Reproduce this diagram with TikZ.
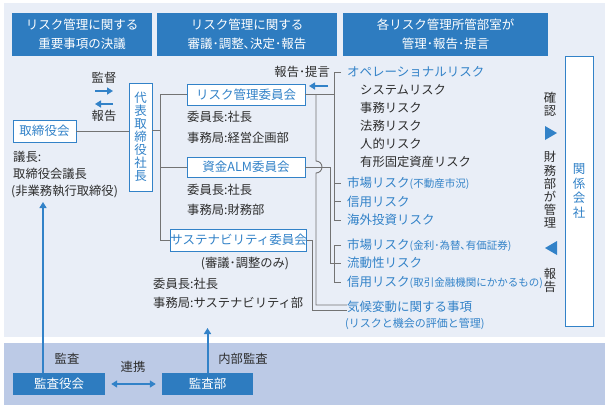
\documentclass[tikz,border=0pt]{standalone}
\usepackage{fontspec}
\setmainfont{Noto Sans CJK JP}
\usetikzlibrary{arrows.meta}
\definecolor{hdrblue}{RGB}{46,124,192}
\definecolor{txtblue}{RGB}{50,130,200}
\definecolor{bglight}{RGB}{233,238,247}
\definecolor{bgdark}{RGB}{188,202,230}
\definecolor{lngray}{RGB}{115,115,115}
\definecolor{txtdark}{RGB}{45,45,45}
\newcommand{\fs}[2]{\fontsize{#1}{#2}\selectfont}
\tikzset{
  hdr/.style={fill=hdrblue, text=white, align=center, inner sep=0pt, font=\fs{12.5}{19}},
  cbox/.style={draw=txtblue, fill=white, text=txtblue, line width=0.9pt, inner sep=0pt, font=\fs{12.5}{15}},
  fbox/.style={fill=hdrblue, text=white, inner sep=0pt, font=\fs{12.5}{15}},
  conn/.style={draw=lngray, line width=0.9pt},
  barrow/.style={draw=txtblue, line width=2pt, -{Triangle[length=6pt,width=7pt]}},
  txt/.style={inner sep=0pt, anchor=west, text=txtdark, font=\fs{12.3}{15}},
  btxt/.style={inner sep=0pt, anchor=west, text=txtblue, font=\fs{12.5}{15}},
  vtxt/.style={inner sep=0pt, align=center, text=txtdark, font=\fs{12.3}{13.2}},
  small/.style={font=\fs{10.5}{12}}
}
\begin{document}
\begin{tikzpicture}[x=1pt,y=-1pt]
\useasboundingbox (0,0) rectangle (607,408);
\fill[white] (0,0) rectangle (607,408);
\fill[bglight] (4,3) rectangle (605,337);
\fill[bgdark] (4,343) rectangle (605,405);

% headers
\node[hdr, minimum width=140pt, minimum height=43pt] (h1) at (82,34.5) {リスク管理に関する\\重要事項の決議};
\node[hdr, minimum width=180pt, minimum height=43pt] (h2) at (247,34.5) {リスク管理に関する\\審議･調整､決定･報告};
\node[hdr, minimum width=205pt, minimum height=43pt] (h3) at (445.5,34.5) {各リスク管理所管部室が\\管理･報告･提言};

% related companies
\node[cbox, minimum width=28pt, minimum height=270pt, align=center, font=\fs{12.5}{14.5}] (kg) at (579,191) {関\\係\\会\\社};

% board
\node[cbox, minimum width=63pt, minimum height=22pt] (bod) at (44.5,131) {取締役会};
\node[txt] (b1) at (13,157) {議長:};
\node[txt] (b2) at (13,174) {取締役会議長};
\node[txt] (b3) at (11,192) {(非業務執行取締役)};

% representative director
\node[cbox, minimum width=23pt, minimum height=108pt, align=center, font=\fs{12.5}{13}] (rep) at (140.5,137) {代\\表\\取\\締\\役\\社\\長};
\node[inner sep=0pt, text=txtdark, font=\fs{12.3}{15}] (kt) at (104,78) {監督};
\node[inner sep=0pt, text=txtdark, font=\fs{12.3}{15}] (hk) at (104,116) {報告};
\coordinate (a1s) at (95,91); \coordinate (a1e) at (113,91);
\coordinate (a2s) at (113,104); \coordinate (a2e) at (95,104);
\draw[barrow] (a1s) -- (a1e);
\draw[barrow] (a2s) -- (a2e);
\draw[conn] (bod.east) -- (bod.east -| rep.west);

% committees
\node[cbox, minimum width=118pt, minimum height=21pt] (rmc) at (246,94.5) {リスク管理委員会};
\node[txt] (r1) at (187,117) {委員長:社長};
\node[txt] (r2) at (187,138) {事務局:経営企画部};
\node[cbox, minimum width=118pt, minimum height=20pt] (alm) at (246,167) {資金ALM委員会};
\node[txt] (m1) at (187,190) {委員長:社長};
\node[txt] (m2) at (187,210) {事務局:財務部};
\node[cbox, minimum width=133pt, minimum height=22pt] (sus) at (238.5,240) {サステナビリティ委員会};
\node[inner sep=0pt, text=txtdark, font=\fs{12.3}{15}] (s0) at (245,264) {(審議･調整のみ)};
\node[txt] (s1) at (153,284) {委員長:社長};
\node[txt] (s2) at (153,303) {事務局:サステナビリティ部};

% trunk from representative
\coordinate (t0) at (160,130);
\coordinate (t1) at (160,94.5);
\coordinate (t2) at (160,167);
\coordinate (t3) at (160,240);
\draw[conn] (rep.east |- t0) -- (t0);
\draw[conn] (t1) -- (t3);
\draw[conn] (t1) -- (rmc.west);
\draw[conn] (t2) -- (alm.west);
\draw[conn] (t3) -- (sus.west);

% risk list
\node[btxt] (op) at (347,72) {オペレーショナルリスク};
\node[txt] (o1) at (360,90) {システムリスク};
\node[txt] (o2) at (360,108) {事務リスク};
\node[txt] (o3) at (360,126) {法務リスク};
\node[txt] (o4) at (360,144) {人的リスク};
\node[txt] (o5) at (360,162) {有形固定資産リスク};
\node[btxt] (mk1) at (347,183) {市場リスク{\fs{10.5}{12}(不動産市況)}};
\node[btxt] (cr1) at (347,201.5) {信用リスク};
\node[btxt] (ov) at (347,220) {海外投資リスク};
\node[btxt] (mk2) at (347,245) {市場リスク{\fs{10.5}{12}(金利･為替､有価証券)}};
\node[btxt] (lq) at (347,263) {流動性リスク};
\node[btxt] (cr2) at (347,282) {信用リスク{\fs{10.5}{12}(取引金融機関にかかるもの)}};
\node[btxt] (cl) at (347,307) {気候変動に関する事項};
\node[btxt, font=\fs{11}{13}] (cl2) at (345,324) {(リスクと機会の評価と管理)};

\node[inner sep=0pt, anchor=east, text=txtdark, font=\fs{12.3}{15}] (hr) at (330,72) {報告･提言};
\coordinate (a3s) at (328,86); \coordinate (a3e) at (309,86);
\draw[barrow] (a3s) -- (a3e);

% brackets
\coordinate (bx) at (334,94.5);
\draw[conn] (rmc.east) -- (bx);
\draw[conn] (op.west -| 341,0) -- (op.west -| bx) -- (ov.west -| bx) -- (ov.west -| 341,0);
\draw[conn] (mk1.west -| bx) -- (mk1.west -| 341,0);
\draw[conn] (cr1.west -| bx) -- (cr1.west -| 341,0);
\draw[conn] (mk2.west -| 341,0) -- (mk2.west -| bx) -- (cr2.west -| bx) -- (cr2.west -| 341,0);
\coordinate (ax) at (330,167);
\draw[conn] (alm.east) -- (ax) -- (ax |- lq.west) -- (lq.west -| 341,0);
% risk mgmt committee to climate (hop over ALM line)
\draw[conn] (316,94.5) -- (316,161) arc[start angle=-90, end angle=90, radius=6] -- (316,305) -- (cl.west |- 0,305);
% sustainability to climate
\draw[conn] (sus.east) -- (312,240) -- (312,310) -- (cl.west |- 0,310);

% vertical labels
\node[vtxt] (kn) at (550,104) {確\\認};
\fill[txtblue] (545,126) -- (557,133) -- (545,140) -- cycle;
\node[vtxt] (zm) at (550,190) {財\\務\\部\\が\\管\\理};
\fill[txtblue] (557,241) -- (545,248) -- (557,255) -- cycle;
\node[vtxt] (hk2) at (550,280.5) {報\\告};

% audit
\node[fbox, minimum width=92pt, minimum height=22pt] (kyk) at (59,384) {監査役会};
\node[fbox, minimum width=91pt, minimum height=22pt] (kb) at (207.5,384) {監査部};
\node[inner sep=0pt, text=txtdark, font=\fs{12.3}{15}] (la) at (67,359) {監査};
\node[inner sep=0pt, text=txtdark, font=\fs{12.3}{15}] (lr) at (133,367) {連携};
\node[inner sep=0pt, text=txtdark, font=\fs{12.3}{15}] (li) at (243,359) {内部監査};
\coordinate (u1s) at (43,373); \coordinate (u1e) at (43,202);
\draw[barrow] (u1s) -- (u1e);
\coordinate (u2e) at (207.5,328);
\draw[barrow] (kb.north) -- (u2e);
\draw[draw=txtblue, line width=2pt, {Triangle[length=6pt,width=7pt]}-{Triangle[length=6pt,width=7pt]}] ([xshift=6pt]kyk.east) -- ([xshift=-6pt]kb.west);
\end{tikzpicture}
\end{document}
